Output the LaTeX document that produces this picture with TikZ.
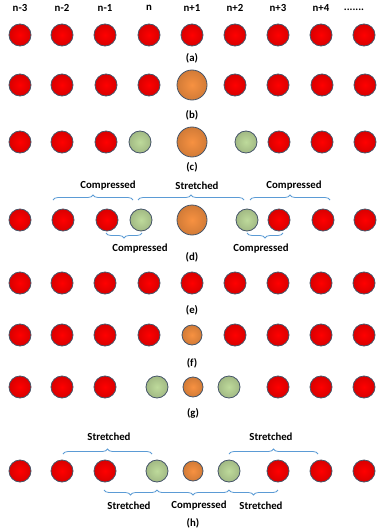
\documentclass[tikz,border=0pt]{standalone}
\usepackage{fontspec}
\setmainfont{Carlito}
\usepackage{xcolor}
\usetikzlibrary{decorations.pathreplacing}

\definecolor{atomred}{RGB}{255,0,0}
\definecolor{atomorange}{RGB}{247,145,65}
\definecolor{atomgreen}{RGB}{190,218,155}
\definecolor{rimgray}{RGB}{70,85,105}
\definecolor{braceblue}{RGB}{91,155,213}

\begin{document}
\begin{tikzpicture}[x=1pt, y=-1pt,
    ratom/.style={circle, draw=rimgray, line width=0.8pt, inner sep=0pt, minimum size=22pt, inner color=atomred, outer color=atomred!85!black},
    gatom/.style={ratom, inner color=atomgreen, outer color=atomgreen!85!black},
    obig/.style={ratom, minimum size=30pt, inner color=atomorange, outer color=atomorange!85!black},
    osmall/.style={obig, minimum size=20pt},
    lbl/.style={font=\bfseries\fontsize{10.8}{13}\selectfont, inner sep=0pt},
    brup/.style={draw=braceblue, line width=0.8pt, decorate, decoration={brace, amplitude=5pt}},
    brdown/.style={brup, decoration={brace, mirror, amplitude=5pt}}
]
\useasboundingbox (0,0) rectangle (376,532);

% site labels
\foreach \x/\t [count=\i] in {20/n-3, 62/n-2, 105/n-1, 149/n, 192/n+1, 235/n+2, 278/n+3, 321/n+4}
  \node[lbl] (top\i) at (\x,8) {\t};
\node[lbl] (top9) at (354,10) {.......};

% (a) perfect chain
\foreach \x [count=\i] in {20,62,105,149,192,235,278,321,364}
  \node[ratom] (a\i) at (\x,35) {};
\node[lbl] (capa) at (192,58) {(a)};

% (b) big substitution
\foreach \x/\s [count=\i] in {20/ratom,62/ratom,106/ratom,149/ratom,192/obig,235/ratom,278/ratom,322/ratom,365/ratom}
  \node[\s] (b\i) at (\x,85) {};
\node[lbl] (capb) at (192,115) {(b)};

% (c) neighbours pushed out
\foreach \x/\s [count=\i] in {20/ratom,62/ratom,106/ratom,140/gatom,192/obig,246/gatom,279/ratom,322/ratom,365/ratom}
  \node[\s] (c\i) at (\x,142) {};
\node[lbl] (capc) at (192,167) {(c)};

% (d) strain regions
\foreach \x/\s [count=\i] in {20/ratom,63/ratom,107/ratom,141/gatom,192/obig,247/gatom,279/ratom,323/ratom,365/ratom}
  \node[\s] (d\i) at (\x,220) {};
\draw[brup] (53,200) -- (133,200);
\draw[brup] (138,200) -- (244,200);
\draw[brup] (250,200) -- (330,200);
\draw[brdown] (106,233) -- (142,233);
\draw[brdown] (247,233) -- (283,233);
\node[lbl] (dl) at (108,186) {Compressed};
\node[lbl] (dm) at (197,186) {Stretched};
\node[lbl] (dr) at (294,186) {Compressed};
\node[lbl] (dbl) at (140,249) {Compressed};
\node[lbl] (dbr) at (261,249) {Compressed};
\node[lbl] (capd) at (192,257) {(d)};

% (e) perfect chain
\foreach \x [count=\i] in {20,62,105,149,192,235,278,321,364}
  \node[ratom] (e\i) at (\x,283) {};
\node[lbl] (cape) at (192,310) {(e)};

% (f) small substitution
\foreach \x/\s [count=\i] in {20/ratom,62/ratom,105/ratom,149/ratom,192/osmall,235/ratom,278/ratom,321/ratom,364/ratom}
  \node[\s] (f\i) at (\x,335) {};
\node[lbl] (capf) at (192,363) {(f)};

% (g) neighbours pulled in
\foreach \x/\s [count=\i] in {20/ratom,62/ratom,105/ratom,157/gatom,193/osmall,229/gatom,278/ratom,321/ratom,364/ratom}
  \node[\s] (g\i) at (\x,387) {};
\node[lbl] (capg) at (193,413) {(g)};

% (h) strain regions
\foreach \x/\s [count=\i] in {20/ratom,62/ratom,105/ratom,157/gatom,193/osmall,229/gatom,278/ratom,321/ratom,364/ratom}
  \node[\s] (h\i) at (\x,471) {};
\draw[brup] (63,454) -- (152,454);
\draw[brup] (229,454) -- (318,454);
\draw[brdown] (104,490) -- (157,490);
\draw[brdown] (157,490) -- (229,490);
\draw[brdown] (229,490) -- (278,490);
\node[lbl] (hl) at (109,437) {Stretched};
\node[lbl] (hr) at (271,437) {Stretched};
\node[lbl] (hbl) at (129,506) {Stretched};
\node[lbl] (hbm) at (199,506) {Compressed};
\node[lbl] (hbr) at (261,506) {Stretched};
\node[lbl] (caph) at (193,523) {(h)};
\end{tikzpicture}
\end{document}
